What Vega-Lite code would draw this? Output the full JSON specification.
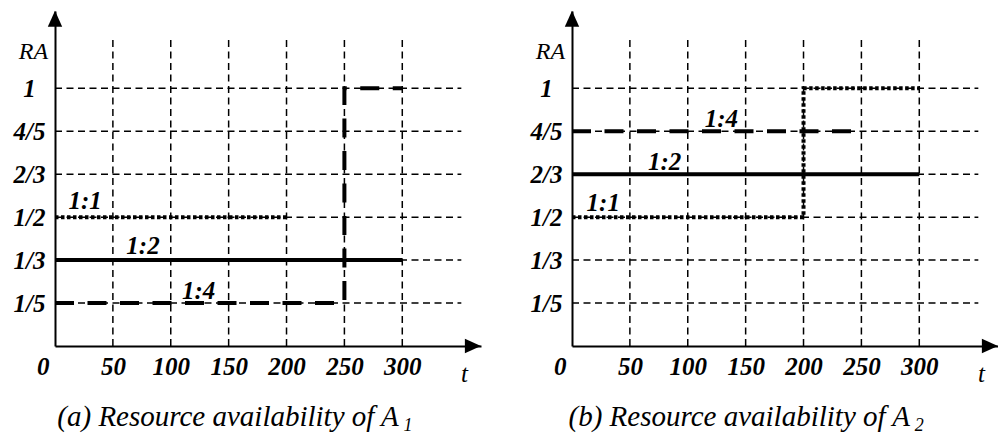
{
  "$schema": "https://vega.github.io/schema/vega-lite/v6.json",
  "padding": {"left": 13, "top": 10, "right": 0, "bottom": 0},
  "background": "white",
  "config": {"view": {"stroke": null}, "font": "Liberation Serif"},
  "spacing": 49,
  "datasets": {
    "lines": [
      {"panel": "A1", "series": "1:1", "i": 0, "t": 0, "level": 3, "RA": "1/2"},
      {"panel": "A1", "series": "1:1", "i": 1, "t": 200, "level": 3, "RA": "1/2"},
      {"panel": "A1", "series": "1:2", "i": 0, "t": 0, "level": 2, "RA": "1/3"},
      {"panel": "A1", "series": "1:2", "i": 1, "t": 300, "level": 2, "RA": "1/3"},
      {"panel": "A1", "series": "1:4", "i": 0, "t": 0, "level": 1, "RA": "1/5"},
      {"panel": "A1", "series": "1:4", "i": 1, "t": 250, "level": 1, "RA": "1/5"},
      {"panel": "A1", "series": "1:4", "i": 2, "t": 250, "level": 6, "RA": "1"},
      {"panel": "A1", "series": "1:4", "i": 3, "t": 300, "level": 6, "RA": "1"},
      {"panel": "A2", "series": "1:1", "i": 0, "t": 0, "level": 3, "RA": "1/2"},
      {"panel": "A2", "series": "1:1", "i": 1, "t": 200, "level": 3, "RA": "1/2"},
      {"panel": "A2", "series": "1:1", "i": 2, "t": 200, "level": 6, "RA": "1"},
      {"panel": "A2", "series": "1:1", "i": 3, "t": 300, "level": 6, "RA": "1"},
      {"panel": "A2", "series": "1:2", "i": 0, "t": 0, "level": 4, "RA": "2/3"},
      {"panel": "A2", "series": "1:2", "i": 1, "t": 300, "level": 4, "RA": "2/3"},
      {"panel": "A2", "series": "1:4", "i": 0, "t": 0, "level": 5, "RA": "4/5"},
      {"panel": "A2", "series": "1:4", "i": 1, "t": 250, "level": 5, "RA": "4/5"}
    ],
    "labels": [
      {"panel": "A1", "series": "1:1", "t": 26, "level": 3.37},
      {"panel": "A1", "series": "1:2", "t": 76, "level": 2.33},
      {"panel": "A1", "series": "1:4", "t": 124, "level": 1.28},
      {"panel": "A2", "series": "1:1", "t": 27, "level": 3.33},
      {"panel": "A2", "series": "1:2", "t": 80, "level": 4.28},
      {"panel": "A2", "series": "1:4", "t": 129, "level": 5.28}
    ],
    "ticksT": [{"t": 50}, {"t": 100}, {"t": 150}, {"t": 200}, {"t": 250}, {"t": 300}],
    "levels": [{"level": 1}, {"level": 2}, {"level": 3}, {"level": 4}, {"level": 5}, {"level": 6}]
  },
  "hconcat": [
    {
      "width": 426,
      "height": 335,
      "layer": [
        {
          "data": {"name": "ticksT"},
          "mark": {"type": "rule", "color": "black", "strokeWidth": 1.5, "strokeDash": [7, 4.5]},
          "encoding": {
            "x": {"field": "t", "type": "quantitative", "scale": {"domain": [0, 368], "nice": false, "zero": false},
              "axis": {"values": [0, 50, 100, 150, 200, 250, 300], "grid": false, "ticks": false, "domainColor": "black", "domainWidth": 2,
                "labelFontStyle": "italic", "labelFontWeight": "bold", "labelFontSize": 25, "labelColor": "black",
                "labelPadding": 8, "labelFlush": false, "labelOverlap": false, "labelBaseline": "top",
                "labelAlign": {"condition": {"test": "datum.value == 0", "value": "right"}, "value": "center"},
                "labelOffset": {"condition": {"test": "datum.value == 0", "value": -6}, "value": 0},
                "title": "t", "titleFontStyle": "italic", "titleFontWeight": "normal", "titleFontSize": 25, "titleColor": "black",
                "titleAnchor": null, "titleAlign": "center", "titleBaseline": "middle", "titleX": 409, "titleY": 27}},
            "y": {"datum": 0, "type": "quantitative", "scale": {"domain": [0, 7.8], "nice": false, "zero": false},
              "axis": {"values": [1, 2, 3, 4, 5, 6], "grid": false, "ticks": false, "domainColor": "black", "domainWidth": 2,
                "labelExpr": "['0','1/5','1/3','1/2','2/3','4/5','1'][datum.value]",
                "labelFontStyle": "italic", "labelFontWeight": "bold", "labelFontSize": 25, "labelColor": "black",
                "labelPadding": 26, "labelAlign": "center", "labelBaseline": "middle", "labelOverlap": false, "labelFlush": false,
                "title": "RA", "titleFontStyle": "italic", "titleFontWeight": "normal", "titleFontSize": 24, "titleColor": "black",
                "titleAngle": 0, "titleAnchor": null, "titleAlign": "center", "titleBaseline": "middle", "titleX": -22, "titleY": 40}},
            "y2": {"datum": 7.17}
          }
        },
        {
          "data": {"name": "levels"},
          "mark": {"type": "rule", "color": "black", "strokeWidth": 1.5, "strokeDash": [7, 4.5]},
          "encoding": {
            "y": {"field": "level", "type": "quantitative"},
            "x": {"datum": 0, "type": "quantitative"},
            "x2": {"datum": 351}
          }
        },
        {
          "data": {"name": "lines"},
          "transform": [{"filter": "datum.panel == 'A1'"}],
          "mark": {"type": "line", "color": "black", "strokeCap": "butt"},
          "encoding": {
            "x": {"field": "t", "type": "quantitative"},
            "y": {"field": "level", "type": "quantitative"},
            "detail": {"field": "series"},
            "order": {"field": "i"},
            "strokeDash": {"field": "series", "type": "nominal", "scale": {"domain": ["1:1", "1:2", "1:4"], "range": [[3.5, 2.5], [1, 0], [19, 13.5]]}, "legend": null},
            "strokeWidth": {"field": "series", "type": "ordinal", "scale": {"domain": ["1:1", "1:2", "1:4"], "range": [4, 4, 4]}, "legend": null}
          }
        },
        {
          "data": {"name": "labels"},
          "transform": [{"filter": "datum.panel == 'A1'"}],
          "mark": {"type": "text", "fontStyle": "italic", "fontWeight": "bold", "fontSize": 25, "color": "black", "align": "center", "baseline": "middle"},
          "encoding": {
            "x": {"field": "t", "type": "quantitative"},
            "y": {"field": "level", "type": "quantitative"},
            "text": {"field": "series"}
          }
        },
        {
          "data": {"values": [{"axis": "t"}]},
          "mark": {"type": "point", "filled": true, "color": "black", "opacity": 1, "size": 256, "shape": "M-1,-0.9L1,0L-1,0.9Z"},
          "encoding": {"x": {"datum": 361, "type": "quantitative"}, "y": {"datum": 0, "type": "quantitative"}}
        },
        {
          "data": {"values": [{"axis": "RA"}]},
          "mark": {"type": "point", "filled": true, "color": "black", "opacity": 1, "size": 256, "shape": "M-0.9,1L0,-1L0.9,1Z"},
          "encoding": {"x": {"datum": 0, "type": "quantitative"}, "y": {"datum": 7.62, "type": "quantitative"}}
        },
        {
          "data": {"values": [{"caption": "(a) Resource availability of A", "sub": "1"}]},
          "layer": [
            {
              "mark": {"type": "text", "fontStyle": "italic", "fontSize": 29, "color": "black", "align": "left", "baseline": "alphabetic"},
              "encoding": {"x": {"datum": 2, "type": "quantitative"}, "y": {"datum": -1.86, "type": "quantitative"}, "text": {"field": "caption"}}
            },
            {
              "mark": {"type": "text", "fontStyle": "italic", "fontSize": 18, "color": "black", "align": "left", "baseline": "alphabetic"},
              "encoding": {"x": {"datum": 301, "type": "quantitative"}, "y": {"datum": -1.98, "type": "quantitative"}, "text": {"field": "sub"}}
            }
          ]
        }
      ]
    },
    {
      "width": 426,
      "height": 335,
      "layer": [
        {
          "data": {"name": "ticksT"},
          "mark": {"type": "rule", "color": "black", "strokeWidth": 1.5, "strokeDash": [7, 4.5]},
          "encoding": {
            "x": {"field": "t", "type": "quantitative", "scale": {"domain": [0, 368], "nice": false, "zero": false},
              "axis": {"values": [0, 50, 100, 150, 200, 250, 300], "grid": false, "ticks": false, "domainColor": "black", "domainWidth": 2,
                "labelFontStyle": "italic", "labelFontWeight": "bold", "labelFontSize": 25, "labelColor": "black",
                "labelPadding": 8, "labelFlush": false, "labelOverlap": false, "labelBaseline": "top",
                "labelAlign": {"condition": {"test": "datum.value == 0", "value": "right"}, "value": "center"},
                "labelOffset": {"condition": {"test": "datum.value == 0", "value": -6}, "value": 0},
                "title": "t", "titleFontStyle": "italic", "titleFontWeight": "normal", "titleFontSize": 25, "titleColor": "black",
                "titleAnchor": null, "titleAlign": "center", "titleBaseline": "middle", "titleX": 409, "titleY": 27}},
            "y": {"datum": 0, "type": "quantitative", "scale": {"domain": [0, 7.8], "nice": false, "zero": false},
              "axis": {"values": [1, 2, 3, 4, 5, 6], "grid": false, "ticks": false, "domainColor": "black", "domainWidth": 2,
                "labelExpr": "['0','1/5','1/3','1/2','2/3','4/5','1'][datum.value]",
                "labelFontStyle": "italic", "labelFontWeight": "bold", "labelFontSize": 25, "labelColor": "black",
                "labelPadding": 26, "labelAlign": "center", "labelBaseline": "middle", "labelOverlap": false, "labelFlush": false,
                "title": "RA", "titleFontStyle": "italic", "titleFontWeight": "normal", "titleFontSize": 24, "titleColor": "black",
                "titleAngle": 0, "titleAnchor": null, "titleAlign": "center", "titleBaseline": "middle", "titleX": -22, "titleY": 40}},
            "y2": {"datum": 7.17}
          }
        },
        {
          "data": {"name": "levels"},
          "mark": {"type": "rule", "color": "black", "strokeWidth": 1.5, "strokeDash": [7, 4.5]},
          "encoding": {
            "y": {"field": "level", "type": "quantitative"},
            "x": {"datum": 0, "type": "quantitative"},
            "x2": {"datum": 351}
          }
        },
        {
          "data": {"name": "lines"},
          "transform": [{"filter": "datum.panel == 'A2'"}],
          "mark": {"type": "line", "color": "black", "strokeCap": "butt"},
          "encoding": {
            "x": {"field": "t", "type": "quantitative"},
            "y": {"field": "level", "type": "quantitative"},
            "detail": {"field": "series"},
            "order": {"field": "i"},
            "strokeDash": {"field": "series", "type": "nominal", "scale": {"domain": ["1:1", "1:2", "1:4"], "range": [[3.5, 2.5], [1, 0], [19, 13.5]]}, "legend": null},
            "strokeWidth": {"field": "series", "type": "ordinal", "scale": {"domain": ["1:1", "1:2", "1:4"], "range": [4, 4, 4]}, "legend": null}
          }
        },
        {
          "data": {"name": "labels"},
          "transform": [{"filter": "datum.panel == 'A2'"}],
          "mark": {"type": "text", "fontStyle": "italic", "fontWeight": "bold", "fontSize": 25, "color": "black", "align": "center", "baseline": "middle"},
          "encoding": {
            "x": {"field": "t", "type": "quantitative"},
            "y": {"field": "level", "type": "quantitative"},
            "text": {"field": "series"}
          }
        },
        {
          "data": {"values": [{"axis": "t"}]},
          "mark": {"type": "point", "filled": true, "color": "black", "opacity": 1, "size": 256, "shape": "M-1,-0.9L1,0L-1,0.9Z"},
          "encoding": {"x": {"datum": 361, "type": "quantitative"}, "y": {"datum": 0, "type": "quantitative"}}
        },
        {
          "data": {"values": [{"axis": "RA"}]},
          "mark": {"type": "point", "filled": true, "color": "black", "opacity": 1, "size": 256, "shape": "M-0.9,1L0,-1L0.9,1Z"},
          "encoding": {"x": {"datum": 0, "type": "quantitative"}, "y": {"datum": 7.62, "type": "quantitative"}}
        },
        {
          "data": {"values": [{"caption": "(b) Resource availability of A", "sub": "2"}]},
          "layer": [
            {
              "mark": {"type": "text", "fontStyle": "italic", "fontSize": 29, "color": "black", "align": "left", "baseline": "alphabetic"},
              "encoding": {"x": {"datum": -3, "type": "quantitative"}, "y": {"datum": -1.86, "type": "quantitative"}, "text": {"field": "caption"}}
            },
            {
              "mark": {"type": "text", "fontStyle": "italic", "fontSize": 18, "color": "black", "align": "left", "baseline": "alphabetic"},
              "encoding": {"x": {"datum": 296, "type": "quantitative"}, "y": {"datum": -1.98, "type": "quantitative"}, "text": {"field": "sub"}}
            }
          ]
        }
      ]
    }
  ]
}
